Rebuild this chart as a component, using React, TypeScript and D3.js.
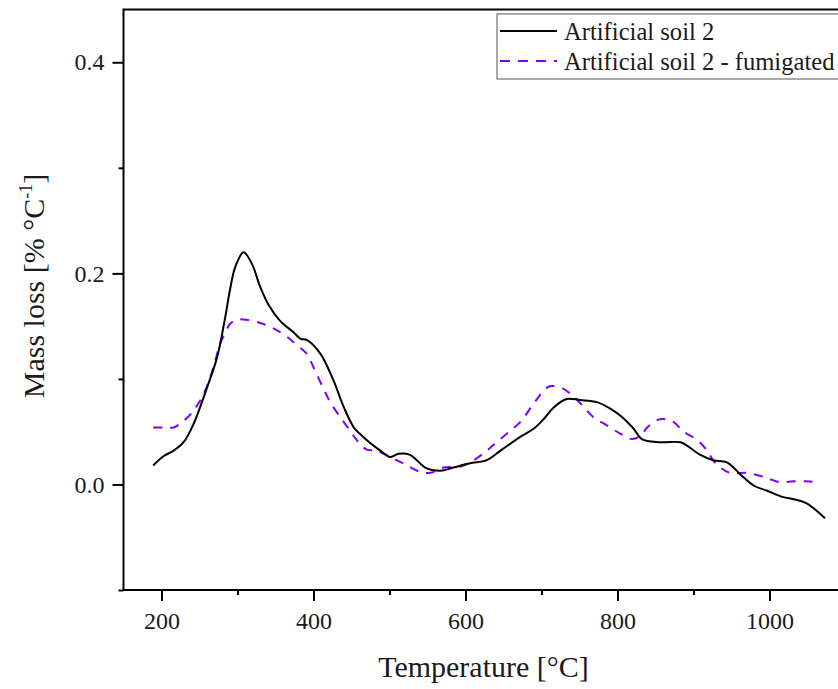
import { useEffect, useRef } from 'react';
import * as d3 from 'd3';

// Artificial soil 2 (solid black)
const soilTemp = [189, 203, 216, 229, 242, 260, 273, 284, 290, 297, 308, 319, 330, 341, 356, 374, 383, 391, 409, 426, 440, 453, 461, 475, 488, 501, 512, 527, 536, 547, 567, 584, 606, 628, 646, 672, 690, 703, 716, 733, 751, 773, 790, 804, 821, 832, 856, 883, 891, 909, 926, 944, 961, 979, 997, 1018, 1032, 1049, 1073];
const soilLoss = [0.018, 0.027, 0.032, 0.040, 0.057, 0.092, 0.120, 0.159, 0.184, 0.206, 0.220, 0.209, 0.187, 0.170, 0.155, 0.144, 0.138, 0.137, 0.124, 0.099, 0.073, 0.054, 0.048, 0.039, 0.032, 0.026, 0.029, 0.028, 0.023, 0.016, 0.013, 0.016, 0.020, 0.023, 0.032, 0.045, 0.053, 0.062, 0.073, 0.081, 0.080, 0.078, 0.072, 0.065, 0.053, 0.043, 0.040, 0.040, 0.037, 0.028, 0.023, 0.021, 0.010, -0.001, -0.006, -0.012, -0.014, -0.018, -0.032];

// Artificial soil 2 - fumigated (dashed violet)
const fumTemp = [189, 203, 216, 227, 240, 255, 268, 277, 284, 290, 299, 312, 326, 341, 352, 365, 378, 391, 400, 411, 422, 435, 448, 457, 470, 483, 501, 518, 540, 554, 571, 593, 611, 628, 641, 659, 672, 690, 703, 711, 725, 738, 751, 768, 786, 804, 819, 830, 839, 852, 861, 874, 887, 905, 918, 929, 948, 970, 988, 1001, 1014, 1032, 1049, 1062];
const fumLoss = [0.054, 0.054, 0.054, 0.059, 0.068, 0.085, 0.110, 0.133, 0.144, 0.152, 0.156, 0.156, 0.154, 0.150, 0.146, 0.140, 0.132, 0.124, 0.111, 0.094, 0.078, 0.064, 0.051, 0.042, 0.033, 0.032, 0.026, 0.020, 0.012, 0.011, 0.016, 0.017, 0.023, 0.032, 0.040, 0.051, 0.059, 0.077, 0.089, 0.093, 0.092, 0.086, 0.077, 0.064, 0.056, 0.048, 0.043, 0.046, 0.054, 0.061, 0.062, 0.059, 0.050, 0.042, 0.032, 0.020, 0.011, 0.011, 0.008, 0.005, 0.002, 0.003, 0.003, 0.002];

const xMajor = [200, 400, 600, 800, 1000];
const xMinor = [300, 500, 700, 900, 1100];
const yMajor = [0.0, 0.2, 0.4];
const yMinor = [-0.1, 0.1, 0.3];

const seriesNames = ['Artificial soil 2', 'Artificial soil 2 - fumigated'];
const violet = '#7f00ff';
const font = '"Liberation Serif", "Times New Roman", serif';

function App() {
    const svgRef = useRef<SVGSVGElement>(null);

    useEffect(() => {
        const svg = d3.select(svgRef.current);
        svg.selectAll('*').remove();

        const x = d3.scaleLinear().domain([150, 1100]).range([123.5, 845.5]);
        const y = d3.scaleLinear().domain([-0.1, 0.45]).range([590, 9.5]);

        const line = d3.line<[number, number]>()
            .x(d => x(d[0]))
            .y(d => y(d[1]))
            .curve(d3.curveCatmullRom.alpha(0.5));

        const soil = soilTemp.map((t, i) => [t, soilLoss[i]] as [number, number]);
        const fum = fumTemp.map((t, i) => [t, fumLoss[i]] as [number, number]);

        svg.append('path')
            .datum(fum)
            .attr('fill', 'none')
            .attr('stroke', violet)
            .attr('stroke-width', 2)
            .attr('stroke-dasharray', '9,8')
            .attr('d', line);

        svg.append('path')
            .datum(soil)
            .attr('fill', 'none')
            .attr('stroke', '#000')
            .attr('stroke-width', 2)
            .attr('d', line);

        // frame
        svg.append('rect')
            .attr('x', x(150))
            .attr('y', y(0.45))
            .attr('width', x(1100) - x(150))
            .attr('height', y(-0.1) - y(0.45))
            .attr('fill', 'none')
            .attr('stroke', '#000')
            .attr('stroke-width', 2);

        // bottom axis
        const bottom = svg.append('g').attr('transform', `translate(0,${y(-0.1)})`);
        bottom.call(d3.axisBottom(x).tickValues(xMinor).tickSize(5).tickFormat(() => ''));
        bottom.select('.domain').remove();
        const bottomMajor = svg.append('g').attr('transform', `translate(0,${y(-0.1)})`);
        bottomMajor.call(d3.axisBottom(x).tickValues(xMajor).tickSize(11).tickPadding(11).tickFormat(d3.format('d')));
        bottomMajor.select('.domain').remove();

        // left axis
        const left = svg.append('g').attr('transform', `translate(${x(150)},0)`);
        left.call(d3.axisLeft(y).tickValues(yMinor).tickSize(5).tickFormat(() => ''));
        left.select('.domain').remove();
        const leftMajor = svg.append('g').attr('transform', `translate(${x(150)},0)`);
        leftMajor.call(d3.axisLeft(y).tickValues(yMajor).tickSize(11).tickPadding(8).tickFormat(d3.format('.1f')));
        leftMajor.select('.domain').remove();

        svg.selectAll('.tick line').attr('stroke', '#000').attr('stroke-width', 2);
        svg.selectAll('.tick text')
            .attr('fill', '#1a1a1a')
            .style('font-family', font)
            .style('font-size', '24px');

        // axis titles
        svg.append('text')
            .attr('x', (x(150) + x(1100)) / 2 - 1)
            .attr('y', 677)
            .attr('text-anchor', 'middle')
            .style('font-family', font)
            .style('font-size', '30px')
            .attr('fill', '#1a1a1a')
            .text('Temperature [°C]');

        const yTitle = svg.append('text')
            .attr('transform', 'translate(44,286) rotate(-90)')
            .attr('text-anchor', 'middle')
            .style('font-family', font)
            .style('font-size', '30px')
            .attr('fill', '#1a1a1a');
        yTitle.append('tspan').text('Mass loss [% °C');
        yTitle.append('tspan').attr('dy', -12).style('font-size', '18px').text('-1');
        yTitle.append('tspan').attr('dy', 12).text(']');

        // legend
        const legend = svg.append('g');
        legend.append('rect')
            .attr('x', 497)
            .attr('y', 14)
            .attr('width', 400)
            .attr('height', 65)
            .attr('fill', '#fff')
            .attr('stroke', '#555')
            .attr('stroke-width', 1);
        const rows = [
            { name: seriesNames[0], color: '#000', dash: null, cy: 31 },
            { name: seriesNames[1], color: violet, dash: '10,8', cy: 61 },
        ];
        rows.forEach(r => {
            legend.append('line')
                .attr('x1', 500).attr('x2', 557)
                .attr('y1', r.cy).attr('y2', r.cy)
                .attr('stroke', r.color)
                .attr('stroke-width', 2)
                .attr('stroke-dasharray', r.dash);
            legend.append('text')
                .attr('x', 564)
                .attr('y', r.cy + 8.5)
                .style('font-family', font)
                .style('font-size', '24.6px')
                .attr('fill', '#1a1a1a')
                .text(r.name);
        });
    }, []);

    return (
        <svg
            ref={svgRef}
            width="838"
            height="689"
            style={{ position: 'absolute', left: 0, top: 0, background: '#fff' }}
        />
    );
}

export default App;
